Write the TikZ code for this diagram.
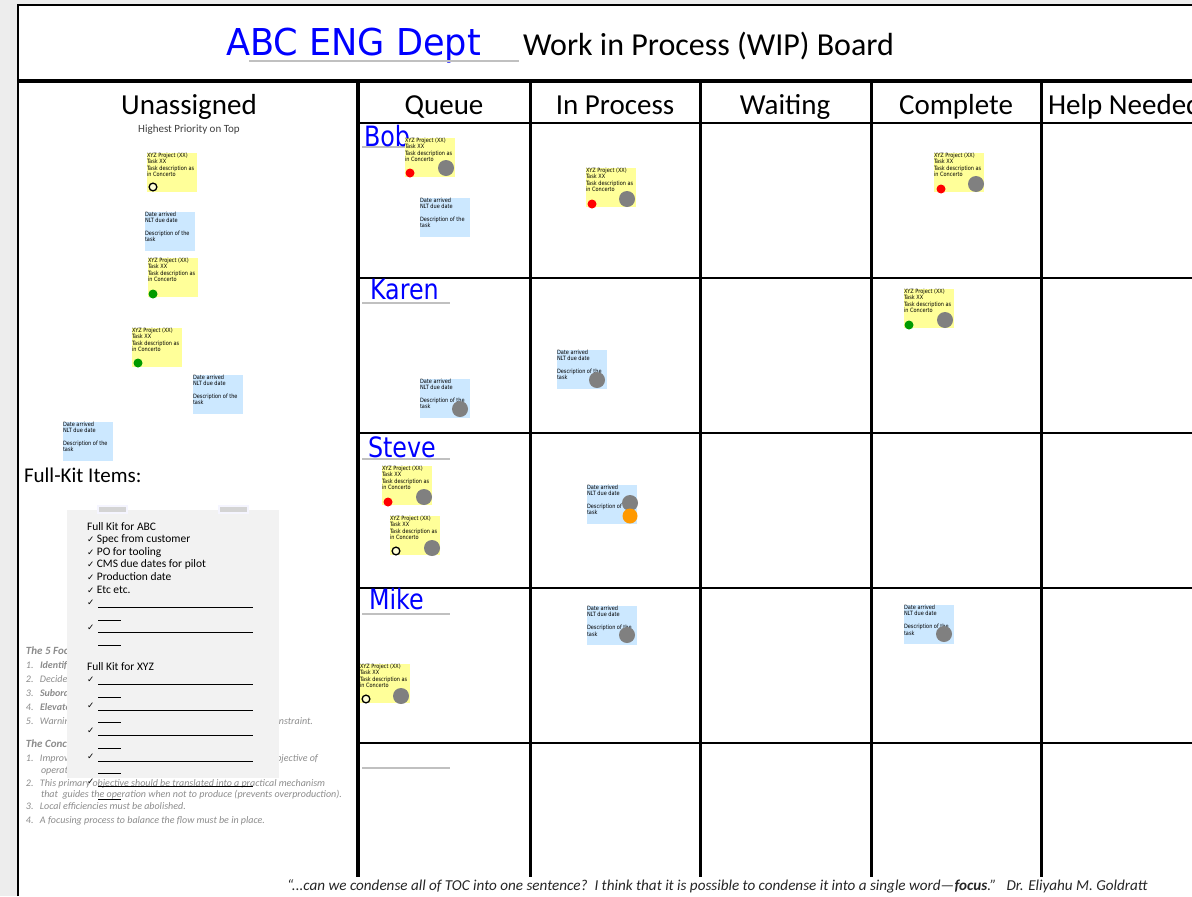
\documentclass[tikz,border=0pt]{standalone}
\usepackage{fontspec}
\setmainfont{Carlito}
\newfontfamily\comic[FakeStretch=0.85]{DejaVu Sans}
\newfontfamily\comictitle[FakeStretch=0.95]{DejaVu Sans}
\newfontfamily\djv{DejaVu Sans}
\definecolor{ynote}{HTML}{FFFF99}
\definecolor{bnote}{HTML}{CCE8FF}
\definecolor{dotred}{HTML}{FF0000}
\definecolor{dotgreen}{HTML}{009A00}
\definecolor{dotgray}{HTML}{808080}
\definecolor{dotorange}{HTML}{FF9900}
\definecolor{namblue}{HTML}{0000FF}
\definecolor{ulgray}{HTML}{C0C0C0}
\definecolor{cardgray}{HTML}{F2F2F2}
\definecolor{bgtext}{HTML}{8C8C8C}
\definecolor{shadowgray}{HTML}{EDEDED}
\definecolor{tapegray}{HTML}{D4D4D4}
\tikzset{
  every node/.style={inner sep=0pt, outer sep=0pt},
  ybox/.style={fill=ynote, minimum width=37.5pt, minimum height=29.25pt, anchor=north west},
  bbox/.style={fill=bnote, minimum width=37.5pt, minimum height=29.25pt, anchor=north west},
  ntext/.style={font=\comic\fontsize{4.4pt}{4.65pt}\selectfont, align=left, anchor=north west, text=black},
  reddot/.style={circle, fill=dotred, minimum size=6.75pt},
  greendot/.style={circle, fill=dotgreen, minimum size=6.75pt},
  graydot/.style={circle, fill=dotgray, minimum size=12pt},
  orangedot/.style={circle, fill=dotorange, minimum size=11.25pt},
  hollowdot/.style={circle, fill=ynote!40, draw=black, line width=1pt, minimum size=5.8pt},
  colhead/.style={font=\fontsize{21.75pt}{26pt}\selectfont, anchor=base},
  person/.style={font=\comic\fontsize{21pt}{25pt}\selectfont, text=namblue, anchor=base west},
  uline/.style={draw=ulgray, line width=1.1pt},
  colline/.style={line width=2.25pt},
  rowline/.style={line width=1.5pt},
  bgt/.style={font=\itshape\fontsize{7.5pt}{9pt}\selectfont, text=bgtext, anchor=base west},
  bgh/.style={font=\bfseries\itshape\fontsize{8.25pt}{9pt}\selectfont, text=bgtext, anchor=base west},
  cardtxt/.style={font=\fontsize{8.6pt}{9.45pt}\selectfont, anchor=base west},
}
\newcommand{\ynote}[3]{%
  \node[ybox] (#1) at (#2,#3) {};
  \node[ntext] (#1t) at ([yshift=-0.2pt]#1.north west) {XYZ Project (XX)\\Task XX\\Task description as\\in Concerto};}
\newcommand{\bnote}[3]{%
  \node[bbox] (#1) at (#2,#3) {};
  \node[ntext] (#1t) at ([yshift=-0.2pt]#1.north west) {Date arrived\\NLT due date\\[5pt]Description of the\\task};}
\newcommand{\ck}{{\djv\fontsize{6.5pt}{8pt}\selectfont ✓}}
\newcommand{\longblank}{\rule[-1.6pt]{116.25pt}{0.6pt}}
\newcommand{\shortblank}{\rule[-1.6pt]{17.25pt}{0.6pt}}
\newcommand{\num}[1]{\makebox[10.5pt][l]{#1}}
\begin{document}
\begin{tikzpicture}[x=0.75pt,y=-0.75pt]
\clip (0,0) rectangle (1192,896);
% page
\fill[shadowgray] (0,0) rectangle (1192,896);
\fill[white] (18,5) rectangle (1192,896);
\draw[line width=1.5pt] (18,896) -- (18,5) -- (1192,5);
\draw[line width=3pt] (18,81) -- (1192,81);
% title
\node[font=\comictitle\fontsize{27.75pt}{30pt}\selectfont, text=namblue, anchor=base west] (dept) at (226,55) {ABC ENG Dept};
\draw[uline, line width=0.9pt] (249,61) -- (519,61);
\node[font=\fontsize{24pt}{28pt}\selectfont, anchor=base west] (wip) at (523,55) {Work in Process (WIP) Board};
% grid
\draw[line width=3pt] (358,81) -- (358,877);
\foreach \x in {530,700,871,1041} \draw[colline] (\x,81) -- (\x,877);
\foreach \y in {123,278,433,588,743} \draw[rowline] (358,\y) -- (1192,\y);
% headers
\node[colhead] (hU) at (189,114) {Unassigned};
\node[font=\fontsize{8.25pt}{10pt}\selectfont, text=black!75, anchor=base] (hUsub) at (189,132) {Highest Priority on Top};
\node[colhead] (hQ) at (444,114) {Queue};
\node[colhead] (hP) at (615,114) {In Process};
\node[colhead] (hW) at (785,114) {Waiting};
\node[colhead] (hC) at (956,114) {Complete};
\node[colhead, anchor=base west] (hH) at (1048,114) {Help Needed};
% people
\draw[uline] (362,147) -- (450,147);
\draw[uline] (362,303) -- (450,303);
\draw[uline] (362,459) -- (450,459);
\draw[uline] (362,614) -- (450,614);
\draw[uline] (362,768) -- (450,768);
\node[person] (bob) at (364,146) {Bob};
\node[person] (karen) at (370,299) {Karen};
\node[person] (steve) at (368,457) {Steve};
\node[person] (mike) at (369,609) {Mike};
% full kit
\node[font=\fontsize{15.75pt}{18pt}\selectfont, anchor=base west] (fk) at (24,482) {Full-Kit Items:};
% background text (partly hidden by the card)
\node[bgh] at (26,654) {The 5 Focusing};
\node[bgt] at (26,668) {\num{1.}{\bfseries Identify}};
\node[bgt] at (26,682) {\num{2.}Decide};
\node[bgt] at (26,696) {\num{3.}{\bfseries Subordinate}};
\node[bgt] at (26,710) {\num{4.}{\bfseries Elevate}};
\node[bgt] at (26,724) {\num{5.}Warning};
\node[bgt, anchor=base east] at (313,724) {constraint.};
\node[bgh] at (26,747) {The Concepts};
\node[bgt] at (26,761) {\num{1.}Improving};
\node[bgt, anchor=base east] at (318,761) {objective of};
\node[bgt] at (41,773) {operations};
\node[bgt] at (26,786) {\num{2.}This primary objective should be translated into a practical mechanism};
\node[bgt] at (41,797) {that\ \ guides the operation when not to produce (prevents overproduction).};
\node[bgt] at (26,809) {\num{3.}Local efficiencies must be abolished.};
\node[bgt] at (26,823) {\num{4.}A focusing process to balance the flow must be in place.};
% card
\fill[cardgray] (67,510) rectangle (279,778);
\filldraw[fill=tapegray, draw=blue!4, line width=0.8pt] (98,506) rectangle (127,513);
\filldraw[fill=tapegray, draw=blue!4, line width=0.8pt] (219,506) rectangle (248,513);
\node[cardtxt] at (87,530) {Full Kit for ABC};
\node[cardtxt] at (87,542.6) {\ck\ Spec from customer};
\node[cardtxt] at (87,555.2) {\ck\ PO for tooling};
\node[cardtxt] at (87,567.8) {\ck\ CMS due dates for pilot};
\node[cardtxt] at (87,580.4) {\ck\ Production date};
\node[cardtxt] at (87,593) {\ck\ Etc etc.};
\node[cardtxt] at (87,605.6) {\ck};
\node[cardtxt] at (98,605.6) {\longblank};
\node[cardtxt] at (98,618.2) {\shortblank};
\node[cardtxt] at (87,630.8) {\ck};
\node[cardtxt] at (98,630.8) {\longblank};
\node[cardtxt] at (98,643.4) {\shortblank};
\node[cardtxt] at (87,670) {Full Kit for XYZ};
\foreach \b in {682.75,708.25,733.75,759.25,784.75} {
  \node[cardtxt] at (87,\b) {\ck};
  \node[cardtxt] at (98,\b) {\longblank};
  \node[cardtxt] at (98,\b+12.75) {\shortblank};
}
% notes: unassigned
\ynote{u1}{147}{153} \node[hollowdot] at (153,187) {};
\bnote{u2}{145}{212}
\ynote{u3}{148}{258} \node[greendot] at (153,294) {};
\ynote{u4}{132}{328} \node[greendot] at (138,363) {};
\bnote{u5}{193}{375}
\bnote{u6}{63}{422}
% Bob
\ynote{b1}{405}{138} \node[reddot] at (410,173) {}; \node[graydot] at (446,168) {};
\bnote{b2}{420}{198}
\ynote{b3}{586}{168} \node[reddot] at (592,204) {}; \node[graydot] at (627,199) {};
\ynote{b4}{934}{153} \node[reddot] at (941,189) {}; \node[graydot] at (976,184) {};
% Karen
\ynote{k1}{904}{289} \node[greendot] at (909,325) {}; \node[graydot] at (945,320) {};
\bnote{k2}{557}{350} \node[graydot] at (597,380) {};
\bnote{k3}{420}{379} \node[graydot] at (460,409) {};
% Steve
\ynote{s1}{382}{466} \node[reddot] at (388,502) {}; \node[graydot] at (424,497) {};
\ynote{s2}{390}{516} \node[hollowdot] at (396,551) {}; \node[graydot] at (432,548) {};
\bnote{s3}{587}{485} \node[graydot] at (630,503) {}; \node[orangedot] at (630,516) {};
% Mike
\bnote{m1}{587}{606} \node[graydot] at (627,635) {};
\bnote{m2}{904}{605} \node[graydot] at (944,634) {};
\ynote{m3}{360}{664} \node[hollowdot] at (366,699) {}; \node[graydot] at (401,696) {};
% quote
\node[font=\itshape\fontsize{11.35pt}{13pt}\selectfont, text=black!85, anchor=base west] (quote) at (287,890) {“...can we condense all of TOC into one sentence?\ \ I think that it is possible to condense it into a single word—{\bfseries focus}.”\ \ \ Dr. Eliyahu M. Goldratt};
\end{tikzpicture}
\end{document}
